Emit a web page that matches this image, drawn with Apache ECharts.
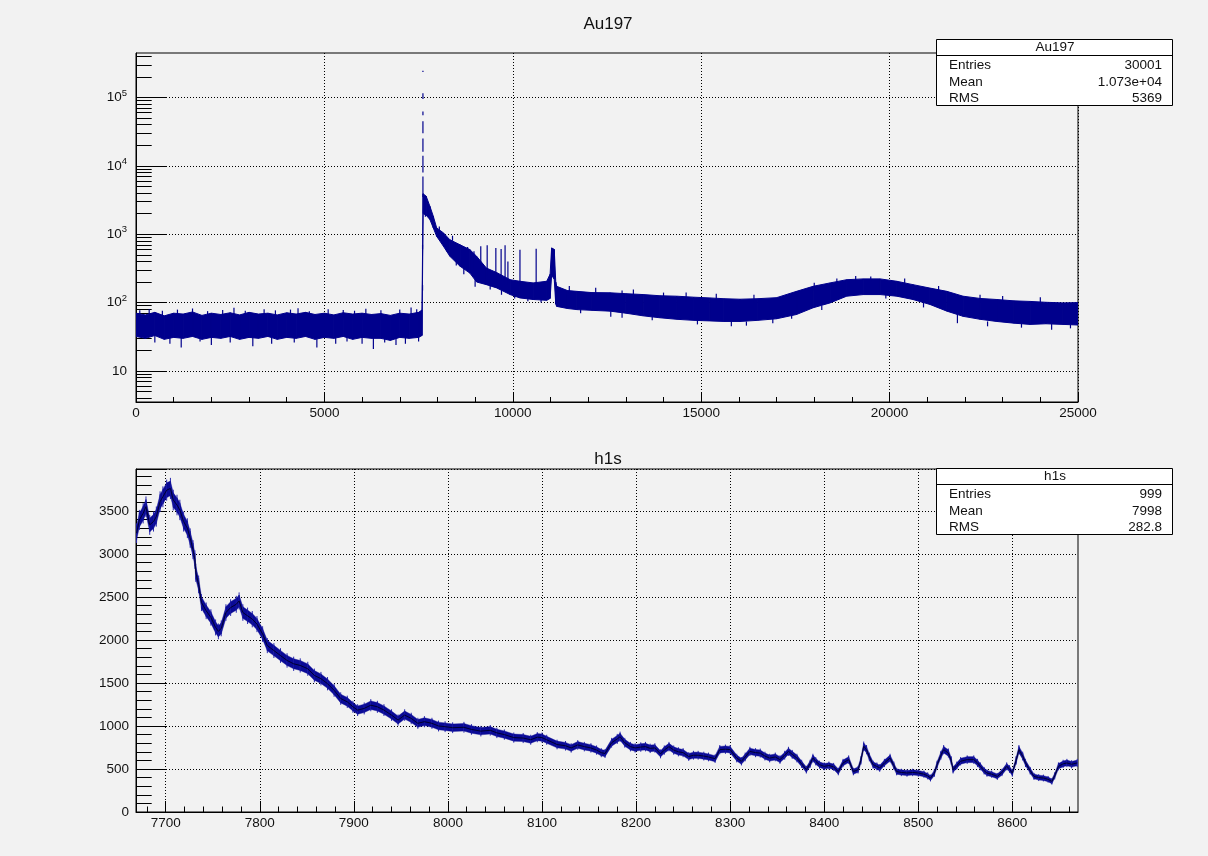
<!DOCTYPE html>
<html>
<head>
<meta charset="utf-8">
<script src="https://cdn.jsdelivr.net/npm/echarts@6/dist/echarts.min.js"></script>
<style>
  html, body { margin: 0; padding: 0; background: #f2f2f2; }
  #main { width: 1208px; height: 856px; }
</style>
</head>
<body>
<div id="main"></div>
<script>
// Au197: band of the spectrum (x, low edge, high edge)
var auX  = [0, 250, 500, 750, 1000, 1250, 1500, 1750, 2000, 2250, 2500, 2750, 3000, 3250, 3500, 3750,
            4000, 4250, 4500, 4750, 5000, 5250, 5500, 5750, 6000, 6250, 6500, 6750, 7000, 7250, 7500, 7590,
            7620, 7700, 7800, 7890, 7980, 8160, 8330, 8600, 8860, 9040, 9300, 9570, 9930, 10190, 10540, 10900,
            10990, 11030, 11100, 11140, 11165, 11450, 11700, 12100, 12580, 13000, 13460, 13900, 14350, 14800,
            15230, 15600, 16030, 16500, 17000, 17530, 17970, 18420, 18860, 19300, 19750, 20190, 20620, 21070,
            21520, 21950, 22400, 22840, 23300, 23730, 24150, 24600, 25000];
var auLo = [32, 30, 33, 29, 31, 30, 32, 29, 31, 30, 32, 29, 31, 30, 32, 29,
            31, 30, 32, 29, 31, 30, 32, 29, 31, 30, 30, 28, 31, 30, 31, 33,
            2000, 1900, 1640, 1235, 930, 665, 475, 340, 270, 200, 183, 164, 131, 117, 111, 108,
            115, 250, 220, 95, 88, 82, 79, 77, 75, 70, 64, 60, 57, 55,
            54, 53, 53, 55, 58, 67, 84, 99, 124, 131, 131, 124, 111, 94,
            75, 63, 57, 53, 50, 48, 49, 48, 47];
var auHi = [70, 66, 72, 64, 70, 68, 73, 65, 70, 67, 71, 66, 72, 68, 70, 66,
            71, 68, 72, 67, 70, 66, 71, 68, 70, 67, 69, 65, 70, 68, 72, 78,
            3900, 3600, 2560, 1830, 1235, 1045, 830, 700, 595, 475, 320, 275, 216, 205, 194, 205,
            260, 630, 600, 200, 173, 150, 146, 140, 139, 135, 131, 126, 124, 120,
            117, 114, 112, 114, 118, 146, 173, 194, 216, 222, 222, 205, 183, 163,
            146, 124, 115, 111, 106, 104, 101, 99, 100];

// Au197: isolated bins and outliers (x, low, high)
var spikeX  = [350, 1500, 2600, 3400, 4300, 5100, 6100, 7300, 1200, 2000, 3100, 4800, 5300, 6300, 6900,
               100, 700, 1100, 1900, 2300, 2900, 3700, 4100, 4600, 5500, 5800, 6500, 7000, 7450,
               500, 900, 1700, 2500, 3600, 4200, 5600, 6000, 6600, 7150, 7500,
               7605, 7605, 7615, 7615, 7615, 7615, 7615, 7615, 7615, 7680,
               8970, 9150, 9320, 9550, 9690, 9795, 9870, 10190, 10620,
               8050, 8250, 8400, 8500, 8700, 8800, 9000, 9400, 9700, 10050, 10400, 10750,
               11500, 12200, 13200, 14600, 15400, 16400, 18000, 18600, 19500, 20400, 21300, 23000, 24000,
               11800, 12600, 13700, 14900, 16200, 17400, 18200, 19900, 20900, 22600, 23500, 24800,
               14000, 19100, 22400, 15800, 21800, 24300, 12900, 16900];
var spikeLo = [60, 60, 60, 60, 60, 60, 60, 60, 22, 24, 23, 22, 25, 21, 24,
               60, 60, 60, 60, 60, 60, 60, 60, 60, 60, 60, 60, 60, 60,
               26, 25, 27, 26, 25, 26, 27, 25, 26, 25, 27,
               150, 600, 3500, 8000, 16000, 30000, 55000, 95000, 235000, 1800,
               300, 300, 250, 220, 220, 200, 180, 180, 170,
               850, 560, 800, 350, 260, 560, 170, 155, 130, 115, 105, 100,
               130, 120, 115, 105, 100, 100, 150, 180, 200, 180, 130, 95, 88,
               70, 62, 55, 48, 46, 58, 78, 115, 85, 45, 43, 42,
               110, 200, 100, 45, 50, 40, 60, 50];
var spikeHi = [80, 82, 84, 80, 83, 80, 81, 85, 35, 35, 35, 35, 35, 35, 35,
               77, 76, 79, 75, 78, 76, 77, 79, 75, 78, 76, 77, 79, 80,
               35, 35, 35, 35, 35, 35, 35, 35, 35, 35, 35,
               180, 700, 7000, 14000, 25000, 45000, 62000, 115000, 245000, 3000,
               565, 665, 690, 630, 610, 690, 400, 590, 615,
               1300, 700, 950, 420, 330, 650, 220, 190, 165, 135, 120, 112,
               175, 165, 155, 140, 135, 130, 195, 225, 240, 225, 175, 125, 120,
               80, 75, 64, 55, 53, 67, 90, 131, 100, 53, 50, 48,
               140, 245, 130, 60, 70, 55, 150, 62];

// h1s: bin contents
var h1sX = [7669, 7672, 7676, 7679, 7683, 7687, 7690, 7694, 7697, 7701, 7705, 7708, 7712, 7715, 7719, 7723,
            7726, 7729, 7731, 7732, 7735, 7738, 7743, 7748, 7753, 7756, 7759, 7764, 7769, 7775, 7778, 7782,
            7787, 7792, 7797, 7803, 7808, 7815, 7822, 7829, 7836, 7843, 7851, 7858, 7865, 7872, 7879, 7886,
            7893, 7899, 7904, 7911, 7918, 7925, 7932, 7940, 7947, 7954, 7961, 7968, 7975, 7983, 7990, 7997,
            8005, 8017, 8025, 8035, 8045, 8052, 8060, 8070, 8080, 8088, 8095, 8100, 8105, 8116, 8125, 8131,
            8138, 8145, 8152, 8158, 8163, 8167, 8174, 8180, 8183, 8188, 8194, 8199, 8205, 8210, 8215, 8220,
            8226, 8230, 8235, 8240, 8245, 8250, 8256, 8261, 8266, 8272, 8277, 8284, 8289, 8295, 8300, 8307,
            8312, 8316, 8321, 8327, 8332, 8337, 8342, 8348, 8353, 8358, 8362, 8366, 8371, 8376, 8381, 8385,
            8388, 8391, 8395, 8400, 8405, 8410, 8415, 8420, 8426, 8431, 8436, 8439, 8442, 8445, 8448, 8452,
            8456, 8459, 8464, 8470, 8474, 8477, 8482, 8488, 8494, 8500, 8506, 8510, 8513, 8517, 8520, 8524,
            8527, 8532, 8535, 8537, 8541, 8545, 8552, 8559, 8563, 8566, 8570, 8573, 8578, 8584, 8589, 8594,
            8597, 8600, 8604, 8607, 8611, 8614, 8619, 8623, 8628, 8633, 8638, 8642, 8645, 8649, 8654, 8658,
            8663, 8669];
var h1sY = [3242, 3396, 3473, 3550, 3338, 3377, 3435, 3608, 3665, 3742, 3762, 3627, 3569, 3512, 3377, 3300,
            3185, 3050, 2935, 2781, 2646, 2435, 2339, 2262, 2146, 2100, 2135, 2319, 2377, 2415, 2454, 2319,
            2281, 2242, 2185, 2069, 1935, 1877, 1819, 1762, 1723, 1704, 1665, 1588, 1550, 1492, 1415, 1319,
            1281, 1223, 1185, 1204, 1242, 1223, 1185, 1127, 1069, 1127, 1088, 1031, 1050, 1031, 1000, 992,
            980, 985, 960, 940, 950, 920, 900, 865, 860, 840, 870, 865, 840, 785, 770, 745,
            780, 760, 745, 720, 690, 680, 805, 850, 875, 805, 760, 745, 755, 760, 740, 745,
            676, 720, 760, 720, 700, 690, 645, 660, 660, 650, 640, 620, 725, 730, 725, 627,
            590, 640, 705, 690, 685, 650, 627, 640, 609, 660, 705, 670, 627, 560, 492, 560,
            627, 590, 550, 531, 540, 525, 470, 570, 609, 470, 492, 600, 764, 725, 640, 550,
            530, 512, 570, 627, 540, 470, 460, 453, 460, 453, 440, 420, 395, 450, 550, 660,
            725, 686, 600, 492, 540, 590, 609, 609, 570, 531, 480, 453, 440, 414, 460, 531,
            500, 453, 600, 725, 650, 570, 480, 414, 400, 395, 380, 356, 420, 531, 560, 570,
            555, 570];

var auTicks = [10, 100, 1000, 10000, 100000];
var auMinorTicks = [4, 5, 6, 7, 8, 9, 20, 30, 40, 50, 60, 70, 80, 90, 200, 300, 400, 500, 600, 700, 800, 900,
                    2000, 3000, 4000, 5000, 6000, 7000, 8000, 9000, 20000, 30000, 40000, 50000, 60000, 70000,
                    80000, 90000, 200000, 300000, 400000];
var h1sTicks = [7700, 7800, 7900, 8000, 8100, 8200, 8300, 8400, 8500, 8600];

var NAVY = '#00008c';
var FONT = '"Liberation Sans", Arial, sans-serif';
var TXT = '#111';

var h1sMinor = [];
for (var t = 7680; t <= 8660; t += 20) h1sMinor.push(t);

var chart = echarts.init(document.getElementById('main'));

function auBand(params, api) {
    var i = params.dataIndex;
    if (i >= auX.length - 1) return null;
    var pts = [
        api.coord([auX[i], auLo[i]]),
        api.coord([auX[i], auHi[i]]),
        api.coord([auX[i + 1], auHi[i + 1]]),
        api.coord([auX[i + 1], auLo[i + 1]])
    ];
    return { type: 'polygon', shape: { points: pts }, style: { fill: NAVY, stroke: NAVY, lineWidth: 1 } };
}

function auSpike(params, api) {
    var a = api.coord([api.value(0), api.value(1)]);
    var b = api.coord([api.value(0), api.value(2)]);
    return { type: 'line', shape: { x1: a[0], y1: a[1], x2: b[0], y2: b[1] }, style: { stroke: NAVY, lineWidth: 1.2 } };
}

// ROOT style errors: band of +- sqrt(N) around the bins, whiskers a bit longer for the bin-to-bin scatter
function h1sBand(params, api) {
    var i = params.dataIndex;
    var children = [];
    var v = h1sY[i], e = Math.sqrt(v);
    var wl = api.coord([h1sX[i], v - 2 * e]), wh = api.coord([h1sX[i], v + 2 * e]);
    children.push({ type: 'line', shape: { x1: wl[0], y1: wl[1], x2: wh[0], y2: wh[1] }, style: { stroke: '#2a2ab0', lineWidth: 1 } });
    if (i < h1sX.length - 1) {
        var w = h1sY[i + 1], f = Math.sqrt(w);
        children.push({
            type: 'polygon',
            shape: { points: [api.coord([h1sX[i], v - 1.4 * e]), api.coord([h1sX[i], v + 1.4 * e]),
                              api.coord([h1sX[i + 1], w + 1.4 * f]), api.coord([h1sX[i + 1], w - 1.4 * f])] },
            style: { fill: '#0a0a96', stroke: '#0a0a96', lineWidth: 0.4 }
        });
    }
    return { type: 'group', children: children };
}

function plain(v) { return String(v); }

function supLabel(v) {
    if (v === 10) return '10';
    return '10{s|' + Math.round(Math.log10(v)) + '}';
}

function statBox(y, head, rows) {
    var els = [
        { type: 'rect', shape: { x: 936.5, y: y + 0.5, width: 236, height: 66 }, style: { fill: '#fff', stroke: '#000', lineWidth: 1 }, z: 100 },
        { type: 'line', shape: { x1: 936.5, y1: y + 16.5, x2: 1172.5, y2: y + 16.5 }, style: { stroke: '#000', lineWidth: 1 }, z: 101 },
        { type: 'text', x: 1055, y: y + 8.5, style: { text: head, font: '13.5px ' + FONT, fill: TXT, align: 'center', verticalAlign: 'middle' }, z: 101 }
    ];
    rows.forEach(function (r, k) {
        var ry = y + 26.5 + k * 16.3;
        els.push({ type: 'text', x: 949, y: ry, style: { text: r[0], font: '13.5px ' + FONT, fill: TXT, align: 'left', verticalAlign: 'middle' }, z: 101 });
        els.push({ type: 'text', x: 1162, y: ry, style: { text: r[1], font: '13.5px ' + FONT, fill: TXT, align: 'right', verticalAlign: 'middle' }, z: 101 });
    });
    return els;
}

var axisTxt = { color: TXT, fontFamily: FONT, fontSize: 13.5 };
var dotted = { color: '#000', width: 1, type: [1, 2] };

var option = {
    backgroundColor: '#f2f2f2',
    animation: false,
    grid: [
        { left: 136, top: 53, width: 942, height: 349, show: true, borderColor: '#000', borderWidth: 1, backgroundColor: 'transparent' },
        { left: 136, top: 469, width: 942, height: 343, show: true, borderColor: '#000', borderWidth: 1, backgroundColor: 'transparent' }
    ],
    xAxis: [
        {
            gridIndex: 0, type: 'value', min: 0, max: 25000, interval: 5000,
            axisLine: { lineStyle: { color: '#000', width: 1 } },
            axisTick: { inside: true, length: 10, lineStyle: { color: '#000' } },
            minorTick: { show: true, splitNumber: 5, length: 5, lineStyle: { color: '#000' } },
            axisLabel: Object.assign({ margin: 4, formatter: plain }, axisTxt),
            splitLine: { show: true, lineStyle: dotted }
        },
        {
            gridIndex: 1, type: 'value', min: 7668.4, max: 8669.8,
            axisLine: { lineStyle: { color: '#000', width: 1 } },
            axisTick: { inside: true, length: 11, customValues: h1sTicks, lineStyle: { color: '#000' } },
            axisLabel: Object.assign({ margin: 4, customValues: h1sTicks, formatter: plain }, axisTxt),
            splitLine: { show: true, lineStyle: dotted }
        },
        {
            gridIndex: 1, type: 'value', min: 7668.4, max: 8669.8, position: 'bottom',
            axisLine: { show: false },
            axisTick: { inside: true, length: 5.5, customValues: h1sMinor, lineStyle: { color: '#000' } },
            axisLabel: { show: false },
            splitLine: { show: false }
        }
    ],
    yAxis: [
        {
            gridIndex: 0, type: 'log', logBase: 10, min: 3.52, max: 446000,
            axisLine: { show: true, lineStyle: { color: '#000', width: 1 } },
            axisTick: { inside: true, length: 31, customValues: auTicks, lineStyle: { color: '#000' } },
            axisLabel: Object.assign({
                margin: 9, customValues: auTicks, formatter: supLabel,
                rich: { s: { fontSize: 9.5, fontFamily: FONT, color: TXT, padding: [0, 0, 9, 0] } }
            }, axisTxt),
            splitLine: { show: true, lineStyle: dotted }
        },
        {
            gridIndex: 0, type: 'log', logBase: 10, min: 3.52, max: 446000, position: 'left',
            axisLine: { show: false },
            axisTick: { inside: true, length: 15.7, customValues: auMinorTicks, lineStyle: { color: '#000' } },
            axisLabel: { show: false },
            splitLine: { show: false }
        },
        {
            gridIndex: 1, type: 'value', min: 0, max: 3988, interval: 500,
            axisLine: { show: true, lineStyle: { color: '#000', width: 1 } },
            axisTick: { inside: true, length: 31, lineStyle: { color: '#000' } },
            minorTick: { show: true, splitNumber: 5, length: 15.7, lineStyle: { color: '#000' } },
            axisLabel: Object.assign({ margin: 7, showMaxLabel: false, formatter: plain }, axisTxt),
            splitLine: { show: true, lineStyle: dotted }
        }
    ],
    series: [
        {
            type: 'custom', xAxisIndex: 0, yAxisIndex: 0, clip: true, renderItem: auBand,
            encode: { x: 0, y: [1, 2] },
            data: auX.map(function (x, i) { return [x, auLo[i], auHi[i]]; })
        },
        {
            type: 'custom', xAxisIndex: 0, yAxisIndex: 0, clip: true, renderItem: auSpike,
            encode: { x: 0, y: [1, 2] },
            data: spikeX.map(function (x, i) { return [x, spikeLo[i], spikeHi[i]]; })
        },
        {
            type: 'custom', xAxisIndex: 1, yAxisIndex: 2, clip: true, renderItem: h1sBand,
            encode: { x: 0, y: 1 },
            data: h1sX.map(function (x, i) { return [x, h1sY[i]]; })
        },
        {
            type: 'line', xAxisIndex: 1, yAxisIndex: 2, symbol: 'none', clip: true,
            lineStyle: { color: '#000030', width: 1 },
            data: h1sX.map(function (x, i) { return [x, h1sY[i]]; })
        }
    ],
    graphic: [
        { type: 'text', x: 608, y: 24, style: { text: 'Au197', font: '17px ' + FONT, fill: TXT, align: 'center', verticalAlign: 'middle' } },
        { type: 'text', x: 608, y: 459, style: { text: 'h1s', font: '17px ' + FONT, fill: TXT, align: 'center', verticalAlign: 'middle' } }
    ]
        .concat(statBox(39, 'Au197', [['Entries', '30001'], ['Mean', '1.073e+04'], ['RMS', '5369']]))
        .concat(statBox(468, 'h1s', [['Entries', '999'], ['Mean', '7998'], ['RMS', '282.8']]))
};

chart.setOption(option);
</script>
</body>
</html>
